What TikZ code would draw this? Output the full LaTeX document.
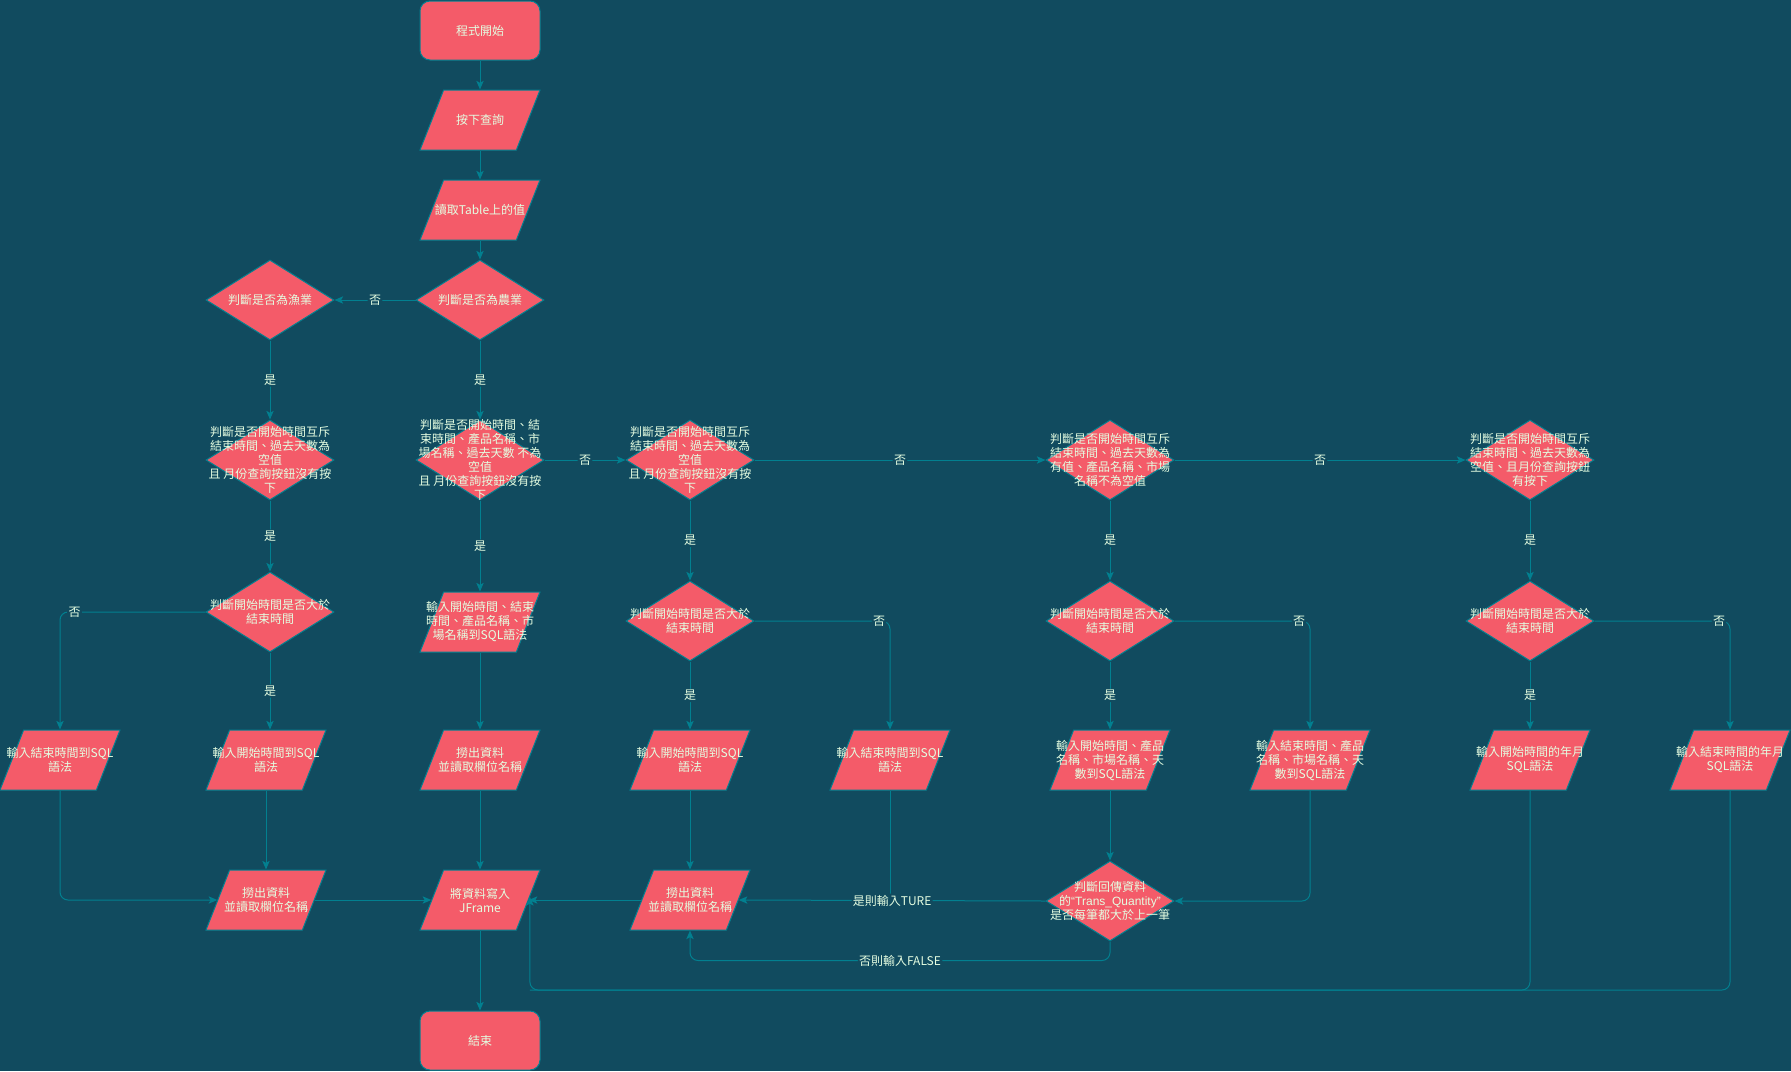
\documentclass[tikz,border=0pt]{standalone}
\usepackage{fontspec}
\setmainfont{Noto Sans CJK TC}
\newfontfamily\latfont{Liberation Sans}
\usetikzlibrary{shapes.geometric,arrows.meta,calc}
\definecolor{bg}{HTML}{114B5F}
\definecolor{nfill}{HTML}{F45B69}
\definecolor{nline}{HTML}{028090}
\definecolor{ntext}{HTML}{E4FDE1}
\begin{document}
\begin{tikzpicture}[x=0.75pt,y=-0.75pt,
  base/.style={draw=nline, fill=nfill, line width=0.75pt, inner sep=1pt},
  txt/.style={text=ntext, font=\fontsize{9}{10.5}\selectfont, align=center, inner sep=0pt},
  term/.style={base, rectangle, rounded corners=7.5pt, minimum width=90pt, minimum height=44.25pt},
  para/.style={base, trapezium, trapezium left angle=72, trapezium right angle=108, trapezium stretches=true, minimum width=90pt, minimum height=45pt},
  dia/.style={base, diamond, minimum width=96pt, minimum height=60pt},
  edge/.style={draw=nline, line width=0.75pt, rounded corners=6pt},
  arr/.style={edge, -{Stealth[length=6.5pt,width=5.5pt,inset=1.5pt]}},
  lbl/.style={text=ntext, fill=bg, font=\fontsize{9}{10.5}\selectfont, inner sep=1pt},
]
\fill[bg] (0,0) rectangle (1791,1071);
\useasboundingbox (0,0) rectangle (1791,1071);

% column B
\node[term, label={[txt]center:程式開始}] (start) at (480,30.5) {};
\node[para, label={[txt]center:按下查詢}] (p1) at (480,120) {};
\node[para, label={[txt]center:讀取Table上的值}] (p2) at (480,210) {};
\node[dia, label={[txt]center:判斷是否為農業}] (B1) at (480,300) {};
\node[dia, label={[txt]center:判斷是否為漁業}] (A1) at (270,300) {};

% row 2
\node[dia, label={[txt]center:{判斷是否開始時間互斥\\結束時間、過去天數為\\空值\\且 月份查詢按鈕沒有按\\下}}] (A2) at (270,460) {};
\node[dia, label={[txt]center:{判斷是否開始時間、結\\束時間、產品名稱、市\\場名稱、過去天數 不為\\空值\\且 月份查詢按鈕沒有按\\下}}] (B2) at (480,460) {};
\node[dia, label={[txt]center:{判斷是否開始時間互斥\\結束時間、過去天數為\\空值\\且 月份查詢按鈕沒有按\\下}}] (C2) at (690,460) {};
\node[dia, label={[txt]center:{判斷是否開始時間互斥\\結束時間、過去天數為\\有值、產品名稱、市場\\名稱不為空值}}] (D2) at (1110,460) {};
\node[dia, label={[txt]center:{判斷是否開始時間互斥\\結束時間、過去天數為\\空值、且月份查詢按鈕\\有按下}}] (E2) at (1530,460) {};

% row 3
\node[dia, label={[txt]center:{判斷開始時間是否大於\\結束時間}}] (A3) at (270,612) {};
\node[para, label={[txt]center:{輸入開始時間、結束\\時間、產品名稱、市\\場名稱到SQL語法}}] (pB3) at (480,622) {};
\node[dia, label={[txt]center:{判斷開始時間是否大於\\結束時間}}] (C3) at (690,621) {};
\node[dia, label={[txt]center:{判斷開始時間是否大於\\結束時間}}] (D3) at (1110,621) {};
\node[dia, label={[txt]center:{判斷開始時間是否大於\\結束時間}}] (E3) at (1530,621) {};

% row 4
\node[para, label={[txt]center:{輸入結束時間到SQL\\語法}}] (pL4) at (60,760) {};
\node[para, label={[txt]center:{輸入開始時間到SQL\\語法}}] (pA4) at (266,760) {};
\node[para, label={[txt]center:{撈出資料\\並讀取欄位名稱}}] (pB4) at (480,760) {};
\node[para, label={[txt]center:{輸入開始時間到SQL\\語法}}] (pC4) at (690,760) {};
\node[para, label={[txt]center:{輸入結束時間到SQL\\語法}}] (pCp) at (890,760) {};
\node[para, label={[txt]center:{輸入開始時間、產品\\名稱、市場名稱、天\\數到SQL語法}}] (pD4) at (1110,760) {};
\node[para, label={[txt]center:{輸入結束時間、產品\\名稱、市場名稱、天\\數到SQL語法}}] (pDp) at (1310,760) {};
\node[para, label={[txt]center:{輸入開始時間的年月\\SQL語法}}] (pE4) at (1530,760) {};
\node[para, label={[txt]center:{輸入結束時間的年月\\SQL語法}}] (pEp) at (1730,760) {};

% row 5
\node[para, label={[txt]center:{撈出資料\\並讀取欄位名稱}}] (pA5) at (266,900) {};
\node[para, label={[txt]center:{將資料寫入\\JFrame}}] (pB5) at (480,900) {};
\node[para, label={[txt]center:{撈出資料\\並讀取欄位名稱}}] (pC5) at (690,900) {};
\node[dia, label={[txt]center:{判斷回傳資料\\的{\latfont “Trans\_Quantity”}\\是否每筆都大於上一筆}}] (D5) at (1110,901) {};

\node[term, label={[txt]center:結束}] (end) at (480,1040.5) {};

% connectors
\draw[arr] (start) -- (p1.center |- p1.north);
\draw[arr] (p1.center |- p1.south) -- (p2.center |- p2.north);
\draw[arr] (p2.center |- p2.south) -- (B1.north);
\draw[arr] (B1.west) -- node[lbl]{否} (A1.east);
\draw[arr] (A1.south) -- node[lbl]{是} (A2.north);
\draw[arr] (B1.south) -- node[lbl]{是} (B2.north);
\draw[arr] (B2.east) -- node[lbl]{否} (C2.west);
\draw[arr] (C2.east) -- node[lbl]{否} (D2.west);
\draw[arr] (D2.east) -- node[lbl]{否} (E2.west);

\draw[arr] (A2.south) -- node[lbl]{是} (A3.north);
\draw[arr] (B2.south) -- node[lbl]{是} (pB3.center |- pB3.north);
\draw[arr] (C2.south) -- node[lbl]{是} (C3.north);
\draw[arr] (D2.south) -- node[lbl]{是} (D3.north);
\draw[arr] (E2.south) -- node[lbl]{是} (E3.north);

\draw[arr] (A3.west) -| node[lbl,pos=.45]{否} (pL4.center |- pL4.north);
\draw[arr] (A3.south) -- node[lbl]{是} (A3.south |- pA4.north);
\draw[arr] (pL4.center |- pL4.south) |- (pA5.west);
\draw[arr] (pA4.center |- pA4.south) -- (pA5.center |- pA5.north);
\draw[arr] (pA5.east) -- (pB5.west);

\draw[arr] (pB3.center |- pB3.south) -- (pB4.center |- pB4.north);
\draw[arr] (pB4.center |- pB4.south) -- (pB5.center |- pB5.north);
\draw[arr] (pB5.center |- pB5.south) -- (end);

\draw[arr] (C3.south) -- node[lbl]{是} (C3.south |- pC4.north);
\draw[arr] (C3.east) -| node[lbl,pos=.46]{否} (pCp.center |- pCp.north);
\draw[arr] (pC4.center |- pC4.south) -- (pC5.center |- pC5.north);
\draw[edge] (pCp.center |- pCp.south) -- (pCp.center |- D5.west);
\draw[arr] (D5.west) -- node[lbl]{是則輸入TURE} (pC5.east);
\draw[arr] (pC5.west) -- (pB5.east);
\draw[arr] (D5.south) -- ++(0,19) -| node[lbl,pos=.25]{否則輸入FALSE} (pC5.center |- pC5.south);

\draw[arr] (D3.south) -- node[lbl]{是} (D3.south |- pD4.north);
\draw[arr] (D3.east) -| node[lbl,pos=.46]{否} (pDp.center |- pDp.north);
\draw[arr] (pD4.center |- pD4.south) -- (D5.north);
\draw[arr] (pDp.center |- pDp.south) |- (D5.east);

\draw[arr] (E3.south) -- node[lbl]{是} (E3.south |- pE4.north);
\draw[arr] (E3.east) -| node[lbl,pos=.46]{否} (pEp.center |- pEp.north);
\coordinate (jb) at ($(pB5.top right corner)!0.45!(pB5.bottom right corner)$);
\coordinate (bot) at (0,990);
\draw[arr] (pEp.center |- pEp.south) |- (jb |- bot) -- (jb);
\draw[edge] (pE4.center |- pE4.south) |- (jb |- bot);
\end{tikzpicture}
\end{document}
